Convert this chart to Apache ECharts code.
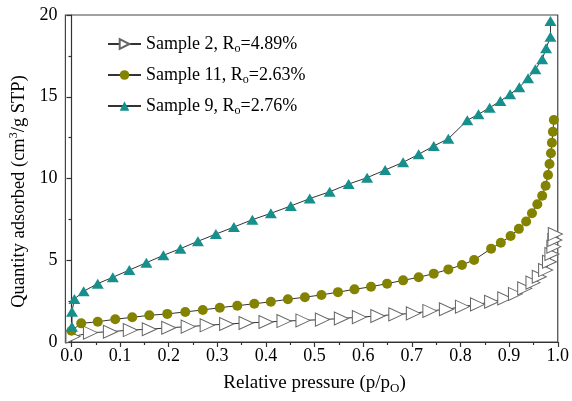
<!DOCTYPE html>
<html>
<head>
<meta charset="utf-8">
<script src="https://cdn.jsdelivr.net/npm/echarts@6/dist/echarts.min.js"></script>
<style>html,body{margin:0;padding:0;background:#fff;}#c{width:572px;height:401px;}</style>
</head>
<body>
<div id="c"></div>
<script>
// ---- data ----
const s2X = [0.003, 0.039, 0.08, 0.121, 0.16, 0.2, 0.24, 0.279, 0.319, 0.359, 0.4, 0.437, 0.476, 0.516, 0.555, 0.592, 0.63, 0.667, 0.703, 0.737, 0.771, 0.804, 0.835, 0.864, 0.891, 0.913, 0.932, 0.949, 0.962, 0.975, 0.983, 0.988, 0.992, 0.994, 0.995];
const s2Y = [0.33, 0.57, 0.63, 0.73, 0.78, 0.87, 0.94, 1.02, 1.1, 1.16, 1.22, 1.28, 1.32, 1.37, 1.44, 1.52, 1.59, 1.69, 1.75, 1.9, 2.0, 2.16, 2.3, 2.46, 2.67, 2.94, 3.28, 3.63, 3.99, 4.4, 4.91, 5.38, 5.83, 6.24, 6.6];

const s11X = [0.0, 0.02, 0.054, 0.09, 0.125, 0.16, 0.197, 0.234, 0.27, 0.305, 0.341, 0.376, 0.41, 0.445, 0.48, 0.514, 0.548, 0.582, 0.616, 0.649, 0.682, 0.714, 0.745, 0.775, 0.803, 0.828, 0.863, 0.883, 0.903, 0.92, 0.935, 0.947, 0.958, 0.968, 0.975, 0.98, 0.983, 0.986, 0.988, 0.99, 0.992];
const s11Y = [0.69, 1.14, 1.24, 1.39, 1.51, 1.63, 1.72, 1.84, 1.96, 2.1, 2.22, 2.34, 2.46, 2.61, 2.74, 2.88, 3.05, 3.22, 3.38, 3.57, 3.77, 3.96, 4.18, 4.44, 4.71, 5.02, 5.71, 6.07, 6.48, 6.92, 7.37, 7.87, 8.42, 8.95, 9.56, 10.21, 10.89, 11.54, 12.19, 12.86, 13.58];

const s9X = [0.001, 0.001, 0.006, 0.025, 0.054, 0.085, 0.119, 0.154, 0.189, 0.224, 0.26, 0.297, 0.334, 0.372, 0.41, 0.451, 0.49, 0.531, 0.57, 0.608, 0.645, 0.682, 0.714, 0.745, 0.775, 0.814, 0.837, 0.86, 0.882, 0.902, 0.921, 0.939, 0.954, 0.968, 0.976, 0.985, 0.985];
const s9Y = [0.94, 1.85, 2.63, 3.1, 3.57, 3.96, 4.4, 4.85, 5.3, 5.71, 6.16, 6.6, 7.03, 7.48, 7.87, 8.32, 8.77, 9.19, 9.66, 10.05, 10.52, 10.99, 11.48, 11.99, 12.43, 13.56, 13.93, 14.33, 14.74, 15.15, 15.58, 16.13, 16.68, 17.29, 17.96, 18.67, 19.63];

const seriesNames = ['Sample 2', 'Sample 11', 'Sample 9'];
const roValues = ['4.89%', '2.63%', '2.76%'];
const xMajorTicks = [0, 0.1, 0.2, 0.3, 0.4, 0.5, 0.6, 0.7, 0.8, 0.9, 1.0];
const xMinorTicks = [0.05, 0.15, 0.25, 0.35, 0.45, 0.55, 0.65, 0.75, 0.85, 0.95];

// ---- chart ----
const font = 'Liberation Serif';
const axisColor = '#333';
const zip = (xs, ys) => xs.map((x, i) => [x, ys[i]]);

const chart = echarts.init(document.getElementById('c'), null, {renderer: 'canvas'});
chart.setOption({
  animation: false,
  backgroundColor: '#fff',
  textStyle: {fontFamily: font, color: '#000'},
  grid: {left: 65, right: 12, top: 15, bottom: 59, show: true, borderColor: '#444', borderWidth: 1.2, backgroundColor: 'transparent'},
  legend: {
    orient: 'vertical', left: 102, top: 30, itemWidth: 33, itemHeight: 12, itemGap: 11,
    data: seriesNames,
    formatter: name => {
      const i = seriesNames.indexOf(name);
      return '{a|' + name + ', R}{s|o}{a|=' + roValues[i] + '}';
    },
    textStyle: {
      fontFamily: font, color: '#000',
      rich: {
        a: {fontFamily: font, fontSize: 18, color: '#000'},
        s: {fontFamily: font, fontSize: 12, color: '#000', padding: [10, 0, 0, 0]}
      }
    }
  },
  xAxis: [{
    type: 'value', min: -0.0125, max: 1.0,
    position: 'bottom',
    name: '{a|Relative pressure (p/p}{s|O}{a|)}',
    nameLocation: 'middle', nameGap: 29,
    nameTextStyle: {
      padding: [0, 0, 0, 6],
      rich: {
        a: {fontFamily: font, fontSize: 19, color: '#000'},
        s: {fontFamily: font, fontSize: 13, color: '#000', padding: [11, 0, 0, 0]}
      }
    },
    splitLine: {show: false},
    axisLine: {show: true, onZero: false, lineStyle: {color: axisColor, width: 1.2}},
    axisTick: {show: true, inside: false, length: 5, customValues: xMajorTicks, lineStyle: {color: axisColor, width: 1.2}},
    axisLabel: {show: true, customValues: xMajorTicks, margin: 5, fontFamily: font, fontSize: 18, color: '#000',
      formatter: v => Number(v).toFixed(1)}
  }, {
    type: 'value', min: -0.0125, max: 1.0,
    position: 'bottom',
    splitLine: {show: false},
    axisLine: {show: false},
    axisTick: {show: true, inside: false, length: 3, customValues: xMinorTicks, lineStyle: {color: axisColor, width: 1.2}},
    axisLabel: {show: false}
  }],
  yAxis: {
    type: 'value', min: 0, max: 20, interval: 5,
    name: '{a|Quantity adsorbed (cm}{p|3}{a|/g STP)}',
    nameLocation: 'middle', nameGap: 35,
    nameTextStyle: {
      padding: [0, 26, 0, 0],
      rich: {
        a: {fontFamily: font, fontSize: 18.5, color: '#000'},
        p: {fontFamily: font, fontSize: 12, color: '#000', padding: [0, 0, 10, 0]}
      }
    },
    splitLine: {show: false},
    axisLine: {show: true, lineStyle: {color: axisColor, width: 1.2}},
    axisTick: {show: true, inside: false, length: 5, lineStyle: {color: axisColor, width: 1.2}},
    minorTick: {show: true, splitNumber: 2, length: 3, lineStyle: {color: axisColor, width: 1.2}},
    minorSplitLine: {show: false},
    axisLabel: {margin: 8, fontFamily: font, fontSize: 18, color: '#000'}
  },
  series: [{
    name: seriesNames[0], type: 'line', data: zip(s2X, s2Y),
    symbol: 'triangle', symbolRotate: -90, symbolSize: [13, 14],
    itemStyle: {color: '#fff', borderColor: '#666', borderWidth: 1},
    lineStyle: {color: '#333', width: 1},
    z: 2
  }, {
    name: seriesNames[1], type: 'line', data: zip(s11X, s11Y),
    symbol: 'circle', symbolSize: 10,
    itemStyle: {color: '#838300', borderColor: '#838300', borderWidth: 0},
    lineStyle: {color: '#333', width: 1},
    z: 3
  }, {
    name: seriesNames[2], type: 'line', data: zip(s9X, s9Y),
    symbol: 'triangle', symbolSize: [12, 10],
    itemStyle: {color: '#178f8c', borderWidth: 0},
    lineStyle: {color: '#333', width: 1},
    z: 4
  }]
});
</script>
</body>
</html>
